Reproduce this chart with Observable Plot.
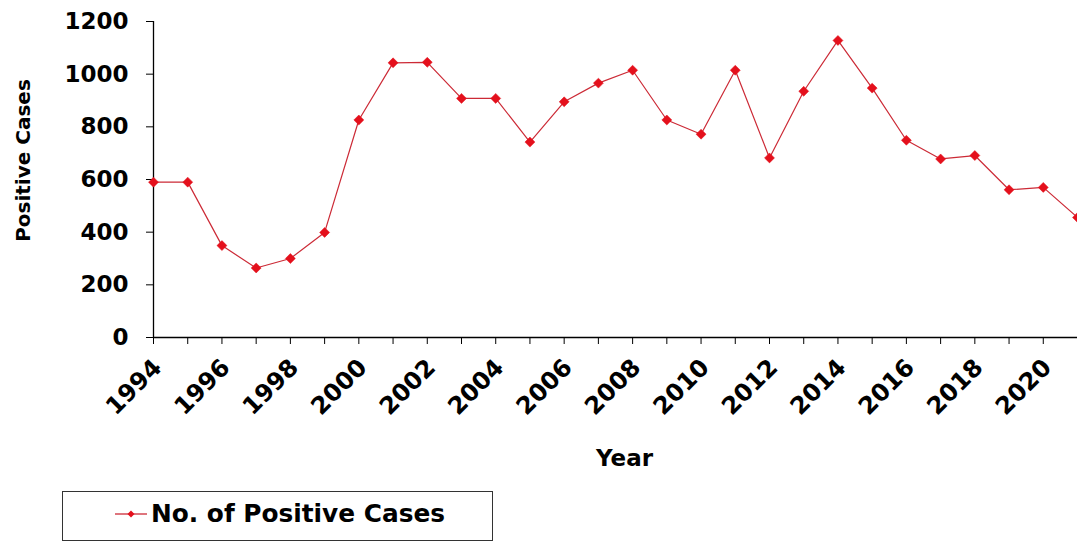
<!DOCTYPE html>
<html>
<head>
<meta charset="utf-8">
<script src="https://cdn.jsdelivr.net/npm/d3@7"></script>
<script src="https://cdn.jsdelivr.net/npm/@observablehq/plot@0.6"></script>
<style>
  html, body { margin: 0; padding: 0; background: #fff; }
  #wrap { position: relative; width: 1077px; height: 542px; font-family: "DejaVu Sans", Verdana, sans-serif; }
  #legend { position: absolute; left: 62px; top: 491px; width: 429px; height: 48px; border: 1.5px solid #333; background: #fff; }
  #legend svg { position: absolute; left: 52px; top: 17px; }
  #legend span { position: absolute; left: 88px; top: 7px; font-weight: bold; font-size: 24.8px; color: #000; white-space: nowrap; }
</style>
</head>
<body>
<div id="wrap"></div>
<script>
const years = [1994,1995,1996,1997,1998,1999,2000,2001,2002,2003,2004,2005,2006,2007,2008,2009,2010,2011,2012,2013,2014,2015,2016,2017,2018,2019,2020,2021];
const positiveCases = [590,590,349,264,300,399,826,1043,1045,908,908,742,895,966,1015,826,772,1015,682,935,1128,947,749,678,691,561,570,456];
const yTicks = [0,200,400,600,800,1000,1200];
const xLabelYears = [1994,1996,1998,2000,2002,2004,2006,2008,2010,2012,2014,2016,2018,2020];
const seriesName = "No. of Positive Cases";
const xTitle = "Year";
const yTitle = "Positive Cases";

const data = years.map((y, i) => ({year: y, value: positiveCases[i]}));

const lineColor = "#cc2a36";
const dotColor = "#e4101c";

const chart = Plot.plot({
  width: 1077,
  height: 485,
  marginTop: 21,
  marginBottom: 148,
  marginLeft: 153,
  marginRight: 0,
  style: {fontFamily: "'DejaVu Sans', Verdana, sans-serif", fontWeight: "bold", fontSize: "22px", color: "#000", background: "#fff", overflow: "visible"},
  x: {domain: [1994, 2021]},
  y: {domain: [0, 1200]},
  marks: [
    Plot.ruleY([0], {stroke: "#000", strokeWidth: 1.3}),
    Plot.ruleX([1994], {y1: 0, y2: 1200, stroke: "#000", strokeWidth: 1.3}),
    Plot.axisY({ticks: yTicks, tickSize: 7, tickPadding: 18, tickFormat: d => String(d), label: null, fontSize: 23, stroke: "#000"}),
    Plot.axisX({ticks: years, tickSize: 7, tickFormat: () => "", label: null, stroke: "#000"}),
    Plot.axisX({ticks: xLabelYears, tickSize: 0, tickPadding: 14, tickRotate: -45, tickFormat: d => String(d), label: null, fontSize: 24, dx: 4, dy: 12}),
    Plot.line(data, {x: "year", y: "value", stroke: lineColor, strokeWidth: 1.2}),
    Plot.dot(data, {x: "year", y: "value", symbol: "diamond2", r: 4.5, fill: dotColor, stroke: dotColor, strokeWidth: 0.5}),
    Plot.text([yTitle], {frameAnchor: "left", textAnchor: "middle", dx: -130, dy: -19, rotate: -90, fontSize: 20, fontWeight: "bold", fill: "#000"}),
    Plot.text([xTitle], {frameAnchor: "bottom", dx: 9, dy: 128, fontSize: 23, fontWeight: "bold", fill: "#000"})
  ]
});

const wrap = document.getElementById("wrap");
wrap.appendChild(chart);

const legend = document.createElement("div");
legend.id = "legend";
legend.innerHTML = `<svg width="32" height="10"><line x1="0" y1="5" x2="32" y2="5" stroke="${lineColor}" stroke-width="1.3"/><path d="M16,1.5 L19.5,5 L16,8.5 L12.5,5 Z" fill="${dotColor}"/></svg><span></span>`;
legend.querySelector("span").textContent = seriesName;
wrap.appendChild(legend);
</script>
</body>
</html>
